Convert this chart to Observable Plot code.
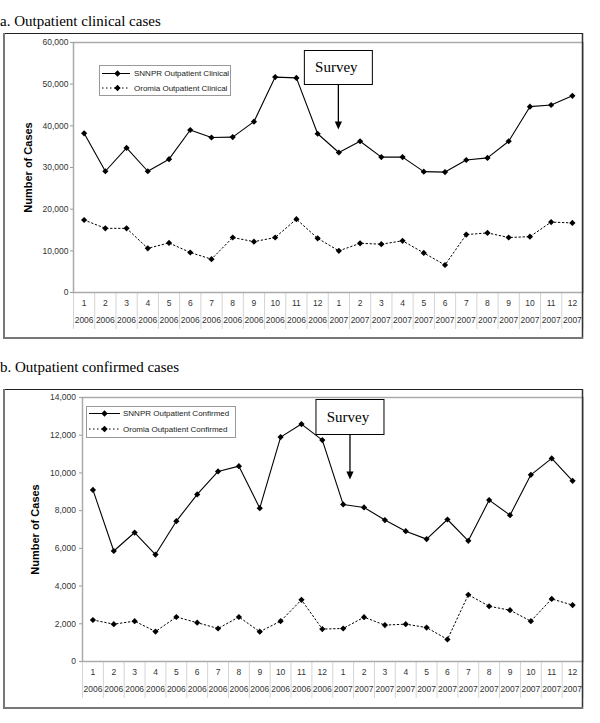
<!DOCTYPE html>
<html><head><meta charset="utf-8">
<script src="https://cdn.jsdelivr.net/npm/d3@7"></script>
<script src="https://cdn.jsdelivr.net/npm/@observablehq/plot@0.6"></script>
<style>
body{margin:0;background:#fff;}
#root{position:relative;width:600px;height:723px;overflow:hidden;background:#fff;}
.chart{position:absolute;left:0;}
#overlay{position:absolute;left:0;top:0;}
</style></head>
<body><div id="root"></div>
<script>
// ---- data ----
const months = ["1","2","3","4","5","6","7","8","9","10","11","12","1","2","3","4","5","6","7","8","9","10","11","12"];
const years = ["2006","2006","2006","2006","2006","2006","2006","2006","2006","2006","2006","2006",
               "2007","2007","2007","2007","2007","2007","2007","2007","2007","2007","2007","2007"];
const clinicalSNNPR = [38200, 29100, 34700, 29100, 32000, 39000, 37200, 37300, 41000, 51700, 51500, 38100,
                       33600, 36300, 32500, 32500, 29000, 28900, 31800, 32300, 36300, 44600, 45000, 47200];
const clinicalOromia = [17400, 15400, 15400, 10600, 11900, 9600, 8000, 13200, 12200, 13200, 17600, 13000,
                        10000, 11800, 11600, 12400, 9500, 6600, 13900, 14300, 13200, 13400, 16900, 16700];
const confirmedSNNPR = [9100, 5860, 6840, 5670, 7440, 8860, 10080, 10360, 8130, 11900, 12590, 11740,
                        8330, 8170, 7500, 6910, 6490, 7530, 6400, 8560, 7760, 9900, 10770, 9580];
const confirmedOromia = [2200, 1980, 2140, 1590, 2360, 2060, 1750, 2360, 1580, 2140, 3270, 1720,
                         1750, 2350, 1930, 1980, 1800, 1170, 3540, 2930, 2720, 2140, 3320, 2990];
const yTicksA = [0, 10000, 20000, 30000, 40000, 50000, 60000];
const yTicksB = [0, 2000, 4000, 6000, 8000, 10000, 12000, 14000];
const titleA = "a. Outpatient clinical cases";
const titleB = "b. Outpatient confirmed cases";
const legendA = ["SNNPR Outpatient Clinical", "Oromia Outpatient Clinical"];
const legendB = ["SNNPR Outpatient Confirmed", "Oromia Outpatient Confirmed"];
const yLabel = "Number of Cases";
const surveyLabel = "Survey";
const surveyIndex = 12; // first month of 2007

const root = document.getElementById("root");
const idx = (d, i) => i + 0.5;
const dotted = "1.5,2.5";

function makeChart(cfg) {
  const chart = Plot.plot({
    width: 600, height: cfg.height,
    marginLeft: cfg.marginLeft, marginRight: 17.5, marginTop: cfg.marginTop, marginBottom: cfg.marginBottom,
    x: {type: "linear", domain: [0, 24]},
    y: {domain: [0, cfg.yMax]},
    style: {fontFamily: "'Liberation Sans', Arial, sans-serif", fontSize: "8.5px", color: "#333", background: "transparent", overflow: "visible"},
    marks: [
      Plot.axisX({ticks: d3.range(0, 25), tickSize: 37, tickFormat: () => "", stroke: "#d4d4d4", strokeWidth: 1}),
      Plot.frame({stroke: "#aaa", strokeWidth: 1.5}),
      Plot.text(months, {x: idx, text: d => d, frameAnchor: "bottom", dy: 11, lineAnchor: "middle", fill: "#333"}),
      Plot.text(years, {x: idx, text: d => d, frameAnchor: "bottom", dy: 28, lineAnchor: "middle", fill: "#333"}),
      Plot.axisY({ticks: cfg.yTicks, tickFormat: d3.format(","), tickSize: 3, tickPadding: cfg.tickPadding, stroke: "#999", fill: "#333"}),
      Plot.text([yLabel], {frameAnchor: "left", textAnchor: "middle", lineAnchor: "middle", rotate: -90, dx: cfg.labelDx,
        fontWeight: "bold", fontSize: 11, fill: "#000", fontFamily: "'Liberation Sans', Arial, sans-serif"}),
      Plot.line(cfg.s2, {x: idx, y: d => d, stroke: "#000", strokeWidth: 1, strokeDasharray: dotted}),
      Plot.line(cfg.s1, {x: idx, y: d => d, stroke: "#000", strokeWidth: 1.1}),
      Plot.dot(cfg.s1, {x: idx, y: d => d, symbol: "diamond2", r: 2.8, fill: "#000"}),
      Plot.dot(cfg.s2, {x: idx, y: d => d, symbol: "diamond2", r: 2.8, fill: "#000"})
    ]
  });
  chart.classList.add("chart");
  chart.style.top = cfg.top + "px";
  root.appendChild(chart);
  return chart;
}

const chartA = makeChart({top: 33, height: 306, marginLeft: 73, marginTop: 9, marginBottom: 47,
  yMax: 60000, yTicks: yTicksA, s1: clinicalSNNPR, s2: clinicalOromia, labelDx: -45, tickPadding: 2});
const chartB = makeChart({top: 389, height: 320, marginLeft: 82, marginTop: 8, marginBottom: 48,
  yMax: 14000, yTicks: yTicksB, s1: confirmedSNNPR, s2: confirmedOromia, labelDx: -47, tickPadding: 3.5});

// ---- overlay: titles, frames, legends, survey annotations ----
const ns = "http://www.w3.org/2000/svg";
const ov = document.createElementNS(ns, "svg");
ov.setAttribute("id", "overlay");
ov.setAttribute("width", 600); ov.setAttribute("height", 723);
root.appendChild(ov);
function el(tag, attrs, text) {
  const e = document.createElementNS(ns, tag);
  for (const k in attrs) e.setAttribute(k, attrs[k]);
  if (text != null) e.textContent = text;
  ov.appendChild(e);
  return e;
}
const serif = "'Liberation Serif', 'Times New Roman', serif";
const sans = "'Liberation Sans', Arial, sans-serif";

function frame(y0, y1) {
  el("line", {x1: 3, x2: 583, y1: y0 + 0.5, y2: y0 + 0.5, stroke: "#222", "stroke-width": 1});
  el("line", {x1: 582.5, x2: 582.5, y1: y0, y2: y1, stroke: "#333", "stroke-width": 1.5});
  el("line", {x1: 4, x2: 4, y1: y0, y2: y1, stroke: "#777", "stroke-width": 2});
  el("line", {x1: 3, x2: 583, y1: y1 - 1, y2: y1 - 1, stroke: "#777", "stroke-width": 2});
}

el("text", {x: 0, y: 26, "font-family": serif, "font-size": 15, fill: "#000"}, titleA);
el("text", {x: 0, y: 372, "font-family": serif, "font-size": 15, fill: "#000"}, titleB);
frame(33, 339);
frame(389, 709);

function diamond(cx, cy, h) {
  el("polygon", {points: `${cx},${cy - h} ${cx + h},${cy} ${cx},${cy + h} ${cx - h},${cy}`, fill: "#000"});
}
function legend(cfg) {
  el("rect", {x: cfg.x + 0.5, y: cfg.y + 0.5, width: cfg.w, height: cfg.h, fill: "#fff", stroke: "#999", "stroke-width": 1});
  cfg.labels.forEach((lab, i) => {
    const cy = cfg.rows[i];
    const a = {x1: cfg.l1, x2: cfg.l2, y1: cy, y2: cy, stroke: "#000", "stroke-width": 1};
    if (i === 1) a["stroke-dasharray"] = dotted;
    el("line", a);
    diamond(cfg.mx, cy, 3.2);
    el("text", {x: cfg.tx, y: cy, dy: "0.35em", "font-family": sans, "font-size": 8, fill: "#222"}, lab);
  });
}
legend({x: 99, y: 65, w: 131, h: 30, rows: [73.5, 88], l1: 102, l2: 130, mx: 117.5, tx: 134, labels: legendA});
legend({x: 86, y: 406, w: 149, h: 31, rows: [413.5, 429], l1: 89, l2: 120, mx: 104.5, tx: 123, labels: legendB});

function survey(chart, xIndex, boxTop, boxBottom, tip) {
  const cx = chart.scale("x").apply(xIndex);
  el("rect", {x: cx - 34, y: boxTop, width: 68, height: boxBottom - boxTop, fill: "#fff", stroke: "#000", "stroke-width": 1});
  el("text", {x: cx - 2, y: (boxTop + boxBottom) / 2, dy: "0.33em", "text-anchor": "middle", "font-family": serif, "font-size": 15, fill: "#000"}, surveyLabel);
  el("line", {x1: cx, x2: cx, y1: boxBottom, y2: tip - 6, stroke: "#000", "stroke-width": 1.3});
  el("polygon", {points: `${cx - 3.6},${tip - 8} ${cx + 3.6},${tip - 8} ${cx},${tip}`, fill: "#000"});
}
survey(chartA, surveyIndex + 0.5, 50.5, 84.5, 129.5);
survey(chartB, surveyIndex + 0.85, 399.5, 434.5, 479.5);
</script>
</body></html>
